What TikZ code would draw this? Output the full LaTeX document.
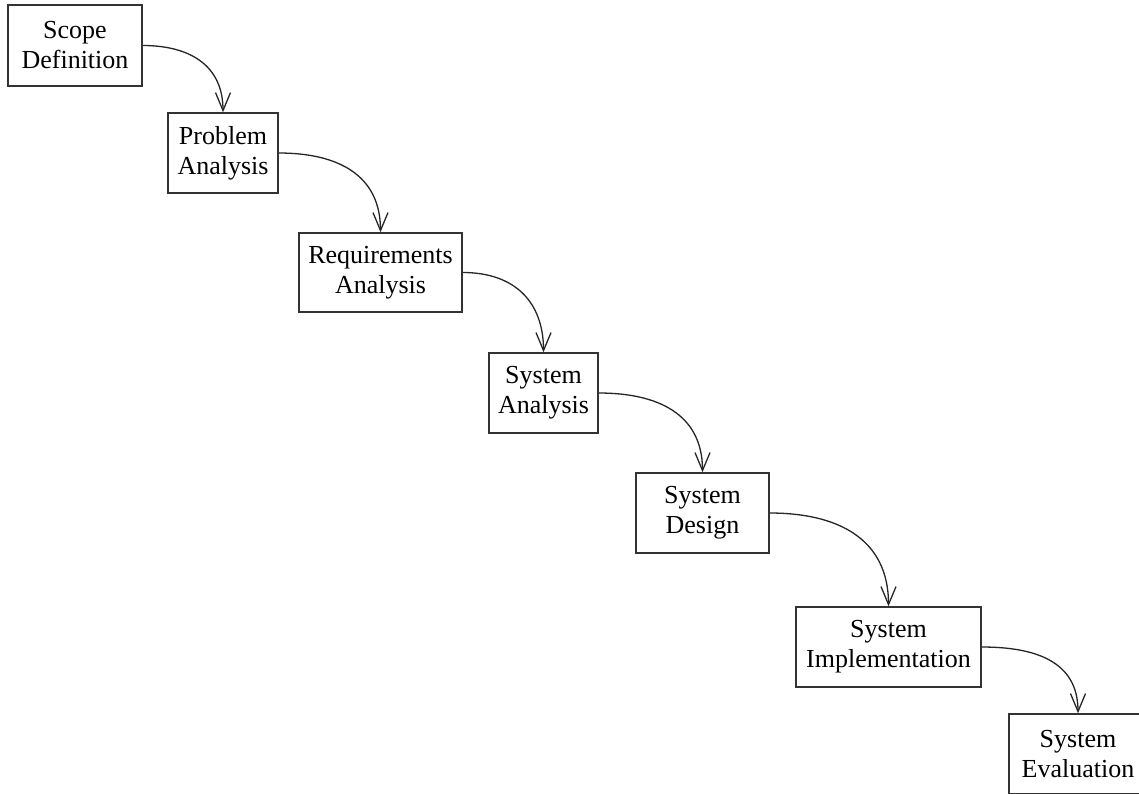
\documentclass[tikz,border=0pt]{standalone}
\usepackage{fontspec}
\setmainfont{Liberation Serif}
\usetikzlibrary{arrows.meta}
\begin{document}
\begin{tikzpicture}[x=1pt,y=-1pt,
  stage/.style={draw=black!80,line width=1.5pt,fill=white,rectangle,inner sep=0pt,
    align=center,font=\fontsize{26}{30}\selectfont,minimum height=80pt},
  flow/.style={draw=black!85,line width=1.3pt,
    -{Straight Barb[length=18pt,width=15pt,line width=1.3pt]},
    out=0,in=90,looseness=1.15}]
\useasboundingbox (0,0) rectangle (1139,793);
\fill[white] (0,0) rectangle (1139,793);
\node[stage,minimum width=134pt,minimum height=81pt] (scope) at (75,45.5) {Scope\\Definition};
\node[stage,minimum width=110pt] (problem) at (223,153) {Problem\\Analysis};
\node[stage,minimum width=163pt,minimum height=79pt] (req) at (380.5,272.5) {Requirements\\Analysis};
\node[stage,minimum width=109pt] (sysan) at (543.5,393) {System\\Analysis};
\node[stage,minimum width=133pt] (design) at (702.5,513) {System\\Design};
\node[stage,minimum width=185pt] (impl) at (888.5,647) {System\\Implementation};
\node[stage,minimum width=138pt,minimum height=80pt] (eval) at (1078,754) {System\\Evaluation};
\draw[flow] (scope.east) to (problem.north);
\draw[flow] (problem.east) to (req.north);
\draw[flow] (req.east) to (sysan.north);
\draw[flow] (sysan.east) to (design.north);
\draw[flow] (design.east) to (impl.north);
\draw[flow] (impl.east) to (eval.north);
\end{tikzpicture}
\end{document}
